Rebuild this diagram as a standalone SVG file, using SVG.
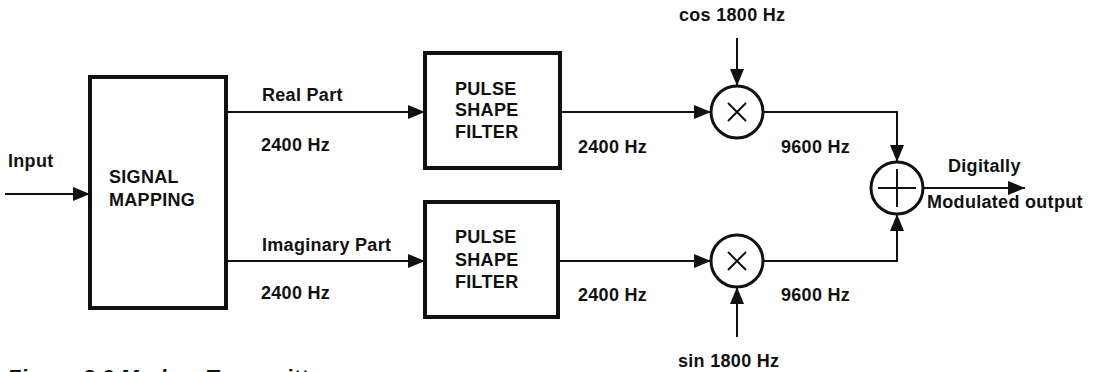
<svg xmlns="http://www.w3.org/2000/svg" width="1109" height="372" viewBox="0 0 1109 372">
<style>
text{font-family:"Liberation Sans",Arial,sans-serif;font-weight:bold;font-size:18px;letter-spacing:0.3px;fill:#111}
.box{fill:#fff;stroke:#111;stroke-width:4}
.circ{fill:#fff;stroke:#111;stroke-width:3}
.sym{stroke:#111;stroke-width:2;fill:none}
.wire{fill:none;stroke:#111;stroke-width:2;marker-end:url(#ah)}
.cap{font-style:italic;font-size:22px}
</style>
<defs>
<marker id="ah" markerUnits="userSpaceOnUse" markerWidth="17" markerHeight="14" refX="17" refY="7" orient="auto">
<path d="M0,0 L17,7 L0,14 z" fill="#111"/>
</marker>
</defs>
<g id="connectors">
<path class="wire" d="M5,194 H90"/>
<path class="wire" d="M226,112 H425"/>
<path class="wire" d="M226,261 H425"/>
<path class="wire" d="M560,112 H711"/>
<path class="wire" d="M560,261 H711"/>
<path class="wire" d="M737,38 V86"/>
<path class="wire" d="M737,337 V287"/>
<path class="wire" d="M763,112 H897 V162"/>
<path class="wire" d="M763,261 H897 V214"/>
<path class="wire" d="M923,188 H1025"/>
</g>
<g id="input-label"><text x="8" y="167">Input</text></g>
<g id="signal-mapping">
<rect class="box" x="90" y="77" width="136" height="231"/>
<text x="109" y="183">SIGNAL</text>
<text x="109" y="206">MAPPING</text>
</g>
<g id="edge-labels">
<text x="262" y="101">Real Part</text>
<text x="261" y="151">2400 Hz</text>
<text x="262" y="251">Imaginary Part</text>
<text x="261" y="299">2400 Hz</text>
<text x="578" y="153">2400 Hz</text>
<text x="578" y="301">2400 Hz</text>
<text x="781" y="153">9600 Hz</text>
<text x="781" y="301">9600 Hz</text>
<text x="679" y="21">cos 1800 Hz</text>
<text x="678" y="367">sin 1800 Hz</text>
<text x="948" y="172">Digitally</text>
<text x="927" y="208">Modulated output</text>
</g>
<g id="psf-top">
<rect class="box" x="425" y="53" width="135" height="115"/>
<text x="455" y="95">PULSE</text>
<text x="455" y="116">SHAPE</text>
<text x="455" y="138">FILTER</text>
</g>
<g id="psf-bottom">
<rect class="box" x="425" y="202" width="133" height="115"/>
<text x="455" y="243">PULSE</text>
<text x="455" y="266">SHAPE</text>
<text x="455" y="288">FILTER</text>
</g>
<g id="mult-top">
<circle class="circ" cx="737" cy="112" r="26"/>
<path class="sym" d="M728,103 L746,121 M746,103 L728,121"/>
</g>
<g id="mult-bottom">
<circle class="circ" cx="737" cy="261" r="26"/>
<path class="sym" d="M728,252 L746,270 M746,252 L728,270"/>
</g>
<g id="adder">
<circle class="circ" cx="897" cy="188" r="26"/>
<path class="sym" d="M878,188 H916 M897,169 V207"/>
</g>
<g id="caption"><text class="cap" x="7" y="385">Figure 3.9 Modem Transmitter</text></g>
</svg>
